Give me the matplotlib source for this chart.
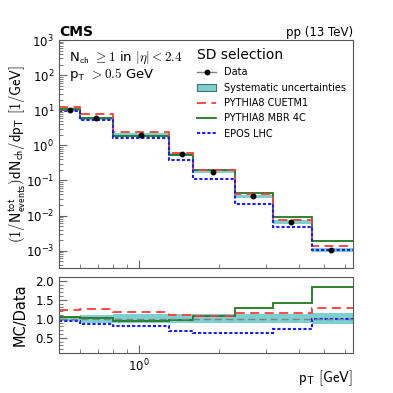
import matplotlib
matplotlib.use('Agg')
import matplotlib.pyplot as plt
import numpy as np
from matplotlib.lines import Line2D
from matplotlib.patches import Patch
from matplotlib.ticker import MultipleLocator, NullFormatter

plt.rcParams['mathtext.fontset'] = 'cm'
plt.rcParams['font.family'] = 'DejaVu Sans'

# pT bin edges [GeV]
edges = np.array([0.5, 0.6, 0.8, 1.3, 1.6, 2.3, 3.2, 4.5, 6.4])
centers = np.array([0.55, 0.69, 1.02, 1.45, 1.9, 2.7, 3.75, 5.3])

# measured spectrum
data = np.array([10.3, 6.0, 2.0, 0.55, 0.18, 0.035, 0.0065, 0.00105])
data_err = np.array([0.3, 0.2, 0.06, 0.02, 0.006, 0.0012, 0.0003, 0.00006])
syst_rel = np.array([0.07, 0.10, 0.12, 0.12, 0.12, 0.12, 0.12, 0.15])

# MC / Data ratios
r_cuetm1 = np.array([1.22, 1.27, 1.17, 1.09, 1.07, 1.15, 1.15, 1.28])
r_mbr4c = np.array([1.06, 1.03, 0.94, 0.97, 1.07, 1.29, 1.41, 1.85])
r_epos = np.array([0.94, 0.87, 0.80, 0.68, 0.63, 0.63, 0.72, 1.00])

c_band = '#7ecfcf'
c_red = '#ff3b3b'
c_green = '#1e7a1e'
c_blue = '#1a1aff'

fig = plt.figure(figsize=(3.93, 3.93), dpi=100)
ax = fig.add_axes([0.150, 0.318, 0.748, 0.580])
rax = fig.add_axes([0.150, 0.102, 0.748, 0.193])

# main panel
ax.stairs(data * (1 + syst_rel), edges, baseline=data * (1 - syst_rel), fill=True,
          color=c_band, lw=0)
ax.stairs(data * r_mbr4c, edges, baseline=None, color=c_green, lw=1.3)
ax.stairs(data * r_cuetm1, edges, baseline=None, color=c_red, lw=1.3, ls=(0, (5, 3)))
ax.stairs(data * r_epos, edges, baseline=None, color=c_blue, lw=1.5, ls=(0, (1.5, 1)))
ax.errorbar(centers, data, yerr=data_err, fmt='o', color='k', ms=3.2, lw=1)

ax.set_xscale('log')
ax.set_yscale('log')
ax.set_xlim(0.5, 6.4)
ax.set_ylim(3.2e-4, 1e3)
ax.xaxis.set_major_formatter(NullFormatter())
ax.xaxis.set_minor_formatter(NullFormatter())
ax.set_ylabel(r'$\mathsf{(1/N^{tot}_{events})dN_{ch}/dp_{T}\ [1/GeV]}$', fontsize=10.5)
ax.yaxis.set_label_coords(-0.105, 0.5)

ax.text(0.035, 0.96, r'N$_{\mathsf{ch}}$ $\geq 1$ in $|\eta| < 2.4$', transform=ax.transAxes,
        fontsize=9.5, va='top')
ax.text(0.035, 0.885, r'p$_{\mathsf{T}}$ $> 0.5$ GeV', transform=ax.transAxes,
        fontsize=9.5, va='top')
ax.text(0.0, 1.02, 'CMS', transform=ax.transAxes, fontsize=10, fontweight='bold')
ax.text(1.0, 1.02, 'pp (13 TeV)', transform=ax.transAxes, fontsize=8.5, ha='right')

handles = [Line2D([], [], color='gray', marker='o', mfc='k', mec='k', ms=3.2, lw=1),
           Patch(facecolor=c_band, edgecolor='#3a6f6f', lw=0.8),
           Line2D([], [], color=c_red, lw=1.3, ls=(0, (5, 3))),
           Line2D([], [], color=c_green, lw=1.3),
           Line2D([], [], color=c_blue, lw=1.5, ls=(0, (1.5, 1)))]
labels = ['Data', 'Systematic uncertainties', 'PYTHIA8 CUETM1', 'PYTHIA8 MBR 4C', 'EPOS LHC']
leg = ax.legend(handles, labels, title='SD selection', loc='upper right', frameon=False,
                fontsize=7, title_fontsize=10, handlelength=2.0, labelspacing=0.55,
                borderaxespad=0.3, bbox_to_anchor=(1.0, 0.995))
leg._legend_box.align = 'left'

# ratio panel
rax.stairs(1 + syst_rel, edges, baseline=1 - syst_rel, fill=True, color=c_band, lw=0)
rax.axhline(1.0, color='gray', ls=(0, (5, 3)), lw=1)
rax.stairs(r_mbr4c, edges, baseline=None, color=c_green, lw=1.3)
rax.stairs(r_cuetm1, edges, baseline=None, color=c_red, lw=1.3, ls=(0, (5, 3)))
rax.stairs(r_epos, edges, baseline=None, color=c_blue, lw=1.5, ls=(0, (1.5, 1)))
rax.set_xscale('log')
rax.set_xlim(0.5, 6.4)
rax.set_ylim(0.1, 2.1)
rax.yaxis.set_major_locator(MultipleLocator(0.5))
rax.yaxis.set_minor_locator(MultipleLocator(0.1))
rax.xaxis.set_minor_formatter(NullFormatter())
rax.set_ylabel('MC/Data', fontsize=10.5)
rax.yaxis.set_label_coords(-0.105, 0.5)
rax.set_xlabel(r'$\mathsf{p_{T}\ [GeV]}$', fontsize=10.5, ha='right', va='center')
rax.xaxis.set_label_coords(1.0, -0.33)

for a in (ax, rax):
    for s in a.spines.values():
        s.set_color('#555555')
    a.tick_params(which='both', direction='in', colors='#666666', labelcolor='k',
                  labelsize=8.5)
    a.tick_params(which='major', length=6)
    a.tick_params(which='minor', length=3)

fig.savefig('out.png', dpi=100)
